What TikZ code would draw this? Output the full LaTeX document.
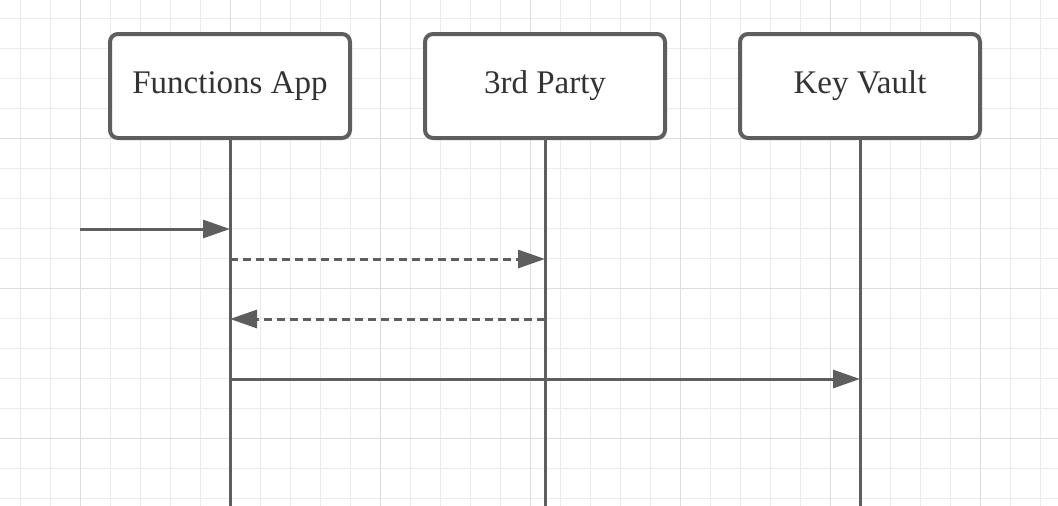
\documentclass[tikz,border=0pt]{standalone}
\usepackage{fontspec}
\setmainfont{Liberation Serif}
\usetikzlibrary{arrows.meta}
\definecolor{ink}{HTML}{5E5E5E}
\definecolor{txt}{HTML}{333333}
\definecolor{gridminor}{HTML}{EBEBEB}
\definecolor{gridmajor}{HTML}{DDDDDD}
\tikzset{
  actor/.style={draw=ink, line width=4pt, rounded corners=8pt, fill=white,
    minimum width=240pt, minimum height=104pt, inner sep=0pt, text=txt,
    font=\fontsize{33}{38}\selectfont},
  lifeline/.style={draw=ink, line width=3pt},
  msg/.style={draw=ink, line width=3pt, -{Triangle[length=27pt,width=18pt]}},
  reply/.style={msg, dash pattern=on 8pt off 5pt}
}
\begin{document}
\begin{tikzpicture}[x=1pt,y=-1pt]
\useasboundingbox (0,0) rectangle (1058,506);
\fill[white] (0,0) rectangle (1058,506);
% grid
\foreach \x in {20,50,...,1050} \draw[gridminor, line width=1pt] (\x,0) -- (\x,506);
\foreach \y in {18,48,...,500} \draw[gridminor, line width=1pt] (0,\y) -- (1058,\y);
\foreach \x in {80,230,...,1050} \draw[gridmajor, line width=1pt] (\x,0) -- (\x,506);
\foreach \y in {138,288,438} \draw[gridmajor, line width=1pt] (0,\y) -- (1058,\y);
% actors
\node[actor] (fa) at (230,86) {\raisebox{2pt}{Functions App}};
\node[actor] (tp) at (545,86) {\raisebox{2pt}{3rd Party}};
\node[actor] (kv) at (860,86) {\raisebox{2pt}{Key Vault}};
% lifeline ends
\coordinate (faend) at (230,506);
\coordinate (tpend) at (545,506);
\coordinate (kvend) at (860,506);
\draw[lifeline] (fa.south) -- (faend);
\draw[lifeline] (tp.south) -- (tpend);
\draw[lifeline] (kv.south) -- (kvend);
% message points
\coordinate (start) at (80,229);
\coordinate (fa1) at (230,229);
\coordinate (fa2) at (230,259);
\coordinate (tp2) at (545,259);
\coordinate (tp3) at (545,319);
\coordinate (fa3) at (230,319);
\coordinate (fa4) at (230,379);
\coordinate (kv4) at (860,379);
\draw[msg] (start) -- (fa1);
\draw[reply] (fa2) -- (tp2);
\draw[reply] (tp3) -- (fa3);
\draw[msg] (fa4) -- (kv4);
\end{tikzpicture}
\end{document}
